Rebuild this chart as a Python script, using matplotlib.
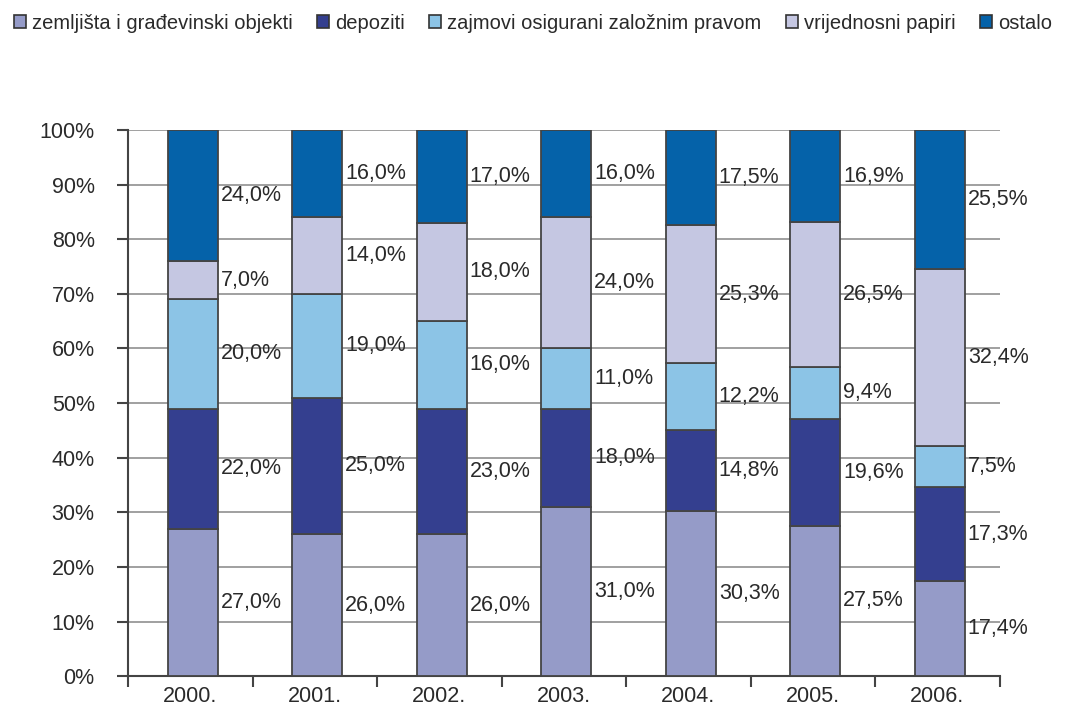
import matplotlib
matplotlib.use("Agg")
import matplotlib.pyplot as plt
from matplotlib.patches import Patch
import numpy as np

years = ["2000.", "2001.", "2002.", "2003.", "2004.", "2005.", "2006."]
series_names = ["zemljišta i građevinski objekti", "depoziti",
                "zajmovi osigurani založnim pravom", "vrijednosni papiri", "ostalo"]
zemljista = [27.0, 26.0, 26.0, 31.0, 30.3, 27.5, 17.4]
depoziti = [22.0, 25.0, 23.0, 18.0, 14.8, 19.6, 17.3]
zajmovi = [20.0, 19.0, 16.0, 11.0, 12.2, 9.4, 7.5]
vrijednosni = [7.0, 14.0, 18.0, 24.0, 25.3, 26.5, 32.4]
ostalo = [24.0, 16.0, 17.0, 16.0, 17.5, 16.9, 25.5]
colors = ["#959BC8", "#343F8F", "#8CC4E6", "#C5C7E2", "#0562A9"]
yticks = [0, 10, 20, 30, 40, 50, 60, 70, 80, 90, 100]

plt.rcParams['font.family'] = ['Liberation Sans', 'DejaVu Sans']
txt = "#2a2a2a"

fig = plt.figure(figsize=(10.76, 7.14), dpi=100)
ax = fig.add_axes([0.119, 0.053, 0.81, 0.765])

data = np.array([zemljista, depoziti, zajmovi, vrijednosni, ostalo])
norm = data / data.sum(axis=0) * 100
x = np.arange(len(years)) + 0.02
bottom = np.zeros(len(years))
for i in range(len(series_names)):
    ax.bar(x, norm[i], 0.4, bottom=bottom, color=colors[i],
           edgecolor="#444444", linewidth=1.3, zorder=3)
    for j in range(len(years)):
        ax.text(x[j] + 0.225, bottom[j] + norm[i][j] / 2,
                f"{data[i][j]:.1f}%".replace(".", ","),
                ha="left", va="center", fontsize=15.5, color=txt, zorder=4)
    bottom += norm[i]

ax.set_xlim(-0.5, 6.5)
ax.set_ylim(0, 100)
ax.set_yticks(yticks)
ax.set_yticklabels([f"{v}%" for v in yticks], fontsize=15.5, color=txt)
ax.set_xticks(np.arange(len(years)))
ax.set_xticklabels(years, fontsize=15.5, color=txt)
ax.set_xticks(np.arange(-0.5, 7.0, 1.0), minor=True)
ax.tick_params(axis="x", which="major", length=0, pad=7)
ax.tick_params(axis="x", which="minor", length=8, width=1.5, color="#444444", direction="out")
ax.tick_params(axis="y", length=8, width=1.5, color="#444444", direction="out", pad=16)
ax.yaxis.grid(True, color="#999999", linewidth=1.3, zorder=0)
ax.set_axisbelow(True)
for s in ["top", "right"]:
    ax.spines[s].set_visible(False)
for s in ["left", "bottom"]:
    ax.spines[s].set_color("#444444")
    ax.spines[s].set_linewidth(1.5)

handles = [Patch(facecolor=c, edgecolor="#333333", linewidth=1.2) for c in colors]
fig.legend(handles, series_names, loc="upper left", bbox_to_anchor=(0.002, 0.998),
           ncol=5, frameon=False, fontsize=14.5, handlelength=0.6, handleheight=0.6,
           handletextpad=0.3, columnspacing=1.2, labelcolor=txt, borderaxespad=0.2)

fig.savefig("out.png", dpi=100)
